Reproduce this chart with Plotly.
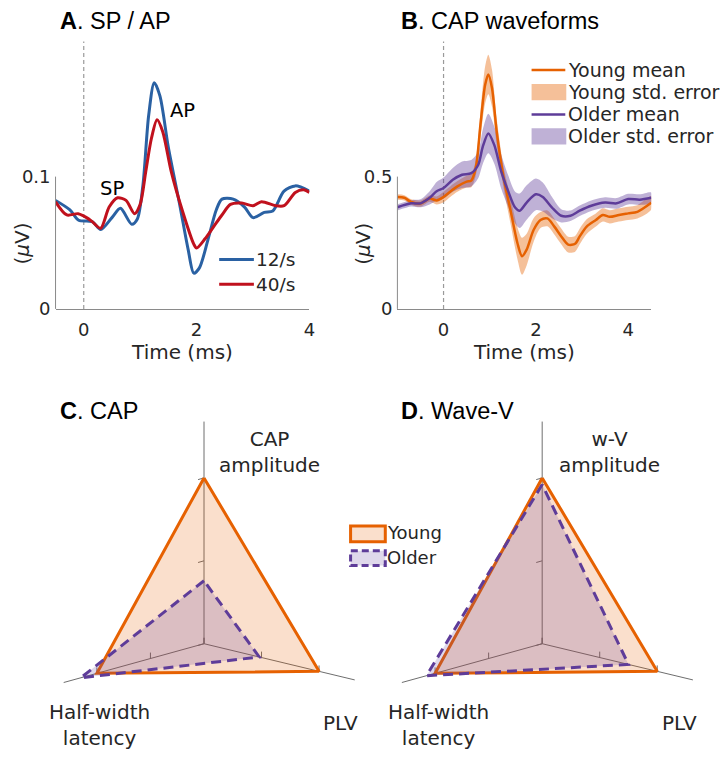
import numpy as np
import plotly.graph_objects as go

# ---------------- Panel A: SP / AP at two stimulation rates ----------------
t_rate12 = [-0.5, -0.25, -0.09, 0.15, 0.3, 0.5, 0.65, 0.85, 0.95, 1.05, 1.15, 1.25, 1.35,
            1.5, 1.7, 1.85, 1.95, 2.05, 2.2, 2.35, 2.45, 2.65, 2.85, 3.0, 3.2, 3.35,
            3.55, 3.75, 4.0]
v_rate12 = [0.082, 0.075, 0.067, 0.066, 0.060, 0.069, 0.076, 0.064, 0.068, 0.094, 0.146,
            0.171, 0.161, 0.122, 0.079, 0.045, 0.027, 0.031, 0.052, 0.075, 0.083, 0.083,
            0.077, 0.069, 0.073, 0.074, 0.089, 0.093, 0.089]

t_rate40 = [-0.5, -0.3, -0.1, 0.05, 0.15, 0.3, 0.45, 0.6, 0.75, 0.9, 1.0, 1.1, 1.2, 1.3,
            1.4, 1.55, 1.75, 1.95, 2.0, 2.15, 2.3, 2.45, 2.6, 2.8, 3.0, 3.15, 3.4, 3.55,
            3.75, 3.9, 4.0]
v_rate40 = [0.081, 0.071, 0.072, 0.069, 0.066, 0.061, 0.077, 0.084, 0.082, 0.072, 0.079,
            0.104, 0.129, 0.143, 0.134, 0.104, 0.074, 0.049, 0.046, 0.053, 0.062, 0.071,
            0.079, 0.080, 0.078, 0.081, 0.078, 0.078, 0.088, 0.090, 0.088]

rate_labels = ["12/s", "40/s"]

# ---------------- Panel B: CAP waveforms, young vs older ----------------
t_young = [-1.0, -0.85, -0.7, -0.5, -0.3, -0.15, 0.0, 0.15, 0.3, 0.5, 0.6, 0.7, 0.8, 0.9,
           0.97, 1.05, 1.15, 1.3, 1.45, 1.6, 1.7, 1.8, 1.95, 2.1, 2.25, 2.4, 2.55, 2.7,
           2.85, 2.95, 3.1, 3.3, 3.45, 3.6, 3.8, 4.0, 4.2, 4.5]
young_mean = [0.423, 0.420, 0.404, 0.398, 0.417, 0.410, 0.423, 0.444, 0.463, 0.481, 0.485,
              0.535, 0.697, 0.846, 0.886, 0.834, 0.672, 0.497, 0.373, 0.249, 0.199, 0.224,
              0.298, 0.336, 0.342, 0.311, 0.274, 0.243, 0.246, 0.274, 0.311, 0.336, 0.355,
              0.348, 0.355, 0.361, 0.367, 0.401]
young_se = [0.010, 0.010, 0.010, 0.012, 0.012, 0.015, 0.020, 0.020, 0.020, 0.022, 0.025,
            0.030, 0.050, 0.070, 0.075, 0.070, 0.050, 0.040, 0.050, 0.060, 0.070, 0.060,
            0.045, 0.030, 0.030, 0.030, 0.030, 0.030, 0.030, 0.030, 0.028, 0.025, 0.025,
            0.025, 0.025, 0.025, 0.025, 0.025]

t_older = [-1.0, -0.7, -0.5, -0.3, -0.15, 0.0, 0.2, 0.4, 0.6, 0.75, 0.85, 0.97, 1.1, 1.25,
           1.4, 1.55, 1.65, 1.8, 2.0, 2.15, 2.35, 2.55, 2.75, 2.95, 3.2, 3.5, 3.75, 4.0,
           4.25, 4.5]
older_mean = [0.384, 0.399, 0.399, 0.420, 0.445, 0.457, 0.488, 0.507, 0.513, 0.544, 0.613,
              0.663, 0.619, 0.519, 0.445, 0.383, 0.371, 0.402, 0.433, 0.423, 0.383, 0.352,
              0.352, 0.371, 0.390, 0.402, 0.399, 0.415, 0.413, 0.420]
older_se = [0.012, 0.012, 0.015, 0.025, 0.035, 0.040, 0.045, 0.050, 0.050, 0.050, 0.065,
            0.075, 0.070, 0.065, 0.060, 0.060, 0.065, 0.065, 0.060, 0.055, 0.040, 0.025,
            0.020, 0.020, 0.020, 0.020, 0.020, 0.020, 0.020, 0.020]

# ---------------- Panels C, D: normalised radar measures ----------------
radar_labels_cap = ["CAP<br>amplitude", "Half-width<br>latency", "PLV"]
radar_labels_wv = ["w-V<br>amplitude", "Half-width<br>latency", "PLV"]
cap_young = [1.0, 1.0, 1.0]
cap_older = [0.38, 1.15, 0.48]
wv_young = [1.0, 1.0, 1.0]
wv_older = [0.96, 1.08, 0.75]
radar_ticks = [0.5, 1.0]
group_labels = ["Young", "Older"]

# ---------------- style ----------------
W, H = 727, 760
FONT = "DejaVu Sans"
TITLE_FONT = "Liberation Sans, Arial"
TXT = "#262626"
AXC = "#8a8a8a"
BLUE = "#2a61a3"
RED = "#c0111d"
ORANGE = "#e66101"
PURPLE = "#5e3c99"


def px(x):
    return x / W


def py(y):
    return 1 - y / H


def rgba(hex_color, a):
    h = hex_color.lstrip("#")
    r, g, b = int(h[0:2], 16), int(h[2:4], 16), int(h[4:6], 16)
    return f"rgba({r},{g},{b},{a})"


fig = go.Figure()

# ---- A ----
fig.add_trace(go.Scatter(x=t_rate12, y=v_rate12, mode="lines", line=dict(color=BLUE, width=3, shape="spline", smoothing=0.8),
                         xaxis="x", yaxis="y", showlegend=False))
fig.add_trace(go.Scatter(x=t_rate40, y=v_rate40, mode="lines", line=dict(color=RED, width=3, shape="spline", smoothing=0.8),
                         xaxis="x", yaxis="y", showlegend=False))


# ---- B ----
def band(t, m, se):
    t = np.asarray(t)
    m = np.asarray(m)
    se = np.asarray(se)
    xs = np.concatenate([t, t[::-1]])
    ys = np.concatenate([m + se, (m - se)[::-1]])
    return xs, ys


bx, by = band(t_young, young_mean, young_se)
fig.add_trace(go.Scatter(x=bx, y=by, fill="toself", fillcolor=rgba(ORANGE, 0.4), mode="lines",
                         line=dict(width=0, shape="spline", smoothing=0.8), xaxis="x2", yaxis="y2", showlegend=False))
bx, by = band(t_older, older_mean, older_se)
fig.add_trace(go.Scatter(x=bx, y=by, fill="toself", fillcolor=rgba(PURPLE, 0.4), mode="lines",
                         line=dict(width=0, shape="spline", smoothing=0.8), xaxis="x2", yaxis="y2", showlegend=False))
fig.add_trace(go.Scatter(x=t_young, y=young_mean, mode="lines", line=dict(color=ORANGE, width=2.5, shape="spline", smoothing=0.8),
                         xaxis="x2", yaxis="y2", showlegend=False))
fig.add_trace(go.Scatter(x=t_older, y=older_mean, mode="lines", line=dict(color=PURPLE, width=2.5, shape="spline", smoothing=0.8),
                         xaxis="x2", yaxis="y2", showlegend=False))

# ---- C, D radar (projected 3-axis view, axes in pixel-sized units) ----
UNIT = {0: np.array([0.0, 168.0]), 1: np.array([-108.0, -30.0]), 2: np.array([116.0, -28.0])}
EXTENT = [1.34, 1.31, 1.31]
TICK_DIR = {0: np.array([-6.0, -1.7]), 1: np.array([0.0, 6.0]), 2: np.array([0.0, 6.0])}
radar_panels = [
    dict(xa="x3", ya="y3", center=np.array([205.7, 107.7]), young=cap_young, older=cap_older, labels=radar_labels_cap,
         label_pos=[(271.7, 302.0), (100.0, 25.0), (343.0, 27.0)]),
    dict(xa="x4", ya="y4", center=np.array([546.7, 107.7]), young=wv_young, older=wv_older, labels=radar_labels_wv,
         label_pos=[(615.0, 302.0), (441.7, 25.0), (685.0, 27.0)]),
]

annotations = []
for p in radar_panels:
    c = p["center"]
    # axis spokes and tick marks
    ax_x, ax_y = [], []
    for k in range(3):
        end = c + EXTENT[k] * UNIT[k]
        ax_x += [c[0], end[0], None]
        ax_y += [c[1], end[1], None]
        for tv in [0.0] + radar_ticks:
            pt = c + tv * UNIT[k]
            ax_x += [pt[0], pt[0] + TICK_DIR[k][0], None]
            ax_y += [pt[1], pt[1] + TICK_DIR[k][1], None]
    fig.add_trace(go.Scatter(x=ax_x, y=ax_y, mode="lines", line=dict(color="#6e6e6e", width=1),
                             xaxis=p["xa"], yaxis=p["ya"], showlegend=False, hoverinfo="skip"))
    for vals, col, dash in [(p["young"], ORANGE, "solid"), (p["older"], PURPLE, "10px,6px")]:
        pts = [c + vals[k] * UNIT[k] for k in range(3)]
        pts.append(pts[0])
        fig.add_trace(go.Scatter(x=[q[0] for q in pts], y=[q[1] for q in pts], mode="lines", fill="toself",
                                 fillcolor=rgba(col, 0.2), line=dict(color=col, width=3, dash=dash),
                                 xaxis=p["xa"], yaxis=p["ya"], showlegend=False))
    for lab, (lx, ly) in zip(p["labels"], p["label_pos"]):
        annotations.append(dict(x=lx, y=ly, xref=p["xa"], yref=p["ya"], text=lab, showarrow=False,
                                font=dict(family=FONT, size=20, color=TXT), align="center",
                                xanchor="center", yanchor="middle"))

# ---- panel titles ----
for lx, ly, letter, name in [(58, 21, "A", "SP / AP"), (402, 21, "B", "CAP waveforms"),
                             (58, 416, "C", "CAP"), (402, 416, "D", "Wave-V")]:
    annotations.append(dict(x=px(lx), y=py(ly), xref="paper", yref="paper", showarrow=False,
                            text=f"<b>{letter}</b>. {name}", xanchor="left", yanchor="middle",
                            font=dict(family=TITLE_FONT, size=23.5, color="black")))

# ---- y-axis titles ----
for lx in [22, 366]:
    annotations.append(dict(x=px(lx), y=py(247), xref="paper", yref="paper", showarrow=False,
                            text="(<i>μ</i>V)", textangle=-90, xanchor="center", yanchor="middle",
                            font=dict(family=FONT, size=20, color=TXT)))

# ---- A annotations ----
annotations.append(dict(x=0.5, y=0.091, xref="x", yref="y", text="SP", showarrow=False,
                        font=dict(family=FONT, size=19.5, color="black")))
annotations.append(dict(x=1.75, y=0.150, xref="x", yref="y", text="AP", showarrow=False,
                        font=dict(family=FONT, size=19.5, color="black")))

shapes = []
# legend A
for yy, col, lab in [(263, BLUE, rate_labels[0]), (288, RED, rate_labels[1])]:
    shapes.append(dict(type="line", xref="paper", yref="paper", x0=px(221), x1=px(256), y0=py(yy), y1=py(yy),
                       line=dict(color=col, width=3)))
    annotations.append(dict(x=px(256), y=py(yy), xref="paper", yref="paper", text=lab, showarrow=False,
                            xanchor="left", yanchor="middle", font=dict(family=FONT, size=18.5, color=TXT)))

# legend B
legB = [("line", ORANGE, "Young mean", 71), ("patch", ORANGE, "Young std. error", 93),
        ("line", PURPLE, "Older mean", 116), ("patch", PURPLE, "Older std. error", 138)]
for kind, col, lab, yy in legB:
    if kind == "line":
        shapes.append(dict(type="line", xref="paper", yref="paper", x0=px(536), x1=px(570), y0=py(yy), y1=py(yy),
                           line=dict(color=col, width=2.5)))
    else:
        shapes.append(dict(type="rect", xref="paper", yref="paper", x0=px(536), x1=px(571), y0=py(yy - 8),
                           y1=py(yy + 8.5), fillcolor=rgba(col, 0.4), line=dict(width=0)))
    annotations.append(dict(x=px(571), y=py(yy), xref="paper", yref="paper", text=lab, showarrow=False,
                            xanchor="left", yanchor="middle", font=dict(family=FONT, size=19, color=TXT)))

# legend C/D
for (y0, y1, col, dash, lab) in [(533, 549, ORANGE, "solid", group_labels[0]),
                                 (558, 573, PURPLE, "7px,4px", group_labels[1])]:
    shapes.append(dict(type="rect", xref="paper", yref="paper", x0=px(353.5), x1=px(388.5), y0=py(y1), y1=py(y0),
                       fillcolor=rgba(col, 0.2), line=dict(color=col, width=3, dash=dash)))
    annotations.append(dict(x=px(388.5), y=py((y0 + y1) / 2 - 1), xref="paper", yref="paper", text=lab,
                            showarrow=False, xanchor="left", yanchor="middle",
                            font=dict(family=FONT, size=18, color=TXT)))

# axis-limited y lines and stimulus-onset markers
shapes.append(dict(type="line", xref="x domain", yref="y", x0=0, x1=0, y0=0, y1=0.1, line=dict(color=AXC, width=1)))
shapes.append(dict(type="line", xref="x2 domain", yref="y2", x0=0, x1=0, y0=0, y1=0.5, line=dict(color=AXC, width=1)))
shapes.append(dict(type="line", xref="x", yref="y domain", x0=0, x1=0, y0=0, y1=1,
                   line=dict(color="#9a9a9a", width=1.2, dash="4px,3px"), layer="below"))
shapes.append(dict(type="line", xref="x2", yref="y2 domain", x0=0, x1=0, y0=0, y1=1,
                   line=dict(color="#9a9a9a", width=1.2, dash="4px,3px"), layer="below"))

tickfont = dict(family=FONT, size=18, color=TXT)
xcommon = dict(showline=True, linecolor=AXC, linewidth=1, ticks="", showgrid=False, zeroline=False,
               tickfont=tickfont, tickvals=[0, 2, 4], fixedrange=True, ticklabelstandoff=5,
               title=dict(text="Time (ms)", font=dict(family=FONT, size=20, color=TXT), standoff=4))
ycommon = dict(showline=False, ticks="", showgrid=False, zeroline=False, tickfont=tickfont, fixedrange=True,
               ticklabelstandoff=4)

fig.update_layout(
    width=W, height=H, margin=dict(l=0, r=0, t=0, b=0),
    paper_bgcolor="white", plot_bgcolor="rgba(0,0,0,0)", showlegend=False,
    xaxis=dict(domain=[px(56), px(312)], range=[-0.5, 4.0], anchor="y", **xcommon),
    yaxis=dict(domain=[py(313), py(42)], range=[0, 0.2022], anchor="x", tickvals=[0, 0.1],
               ticktext=["0", "0.1"], **ycommon),
    xaxis2=dict(domain=[px(400.7), px(656.7)], range=[-1.0, 4.5], anchor="y2", **xcommon),
    yaxis2=dict(domain=[py(313), py(42)], range=[0, 1.011], anchor="x2", tickvals=[0, 0.5],
                ticktext=["0", "0.5"], **ycommon),
    xaxis3=dict(domain=[0, px(363)], range=[0, 363], visible=False, fixedrange=True, anchor="y3"),
    yaxis3=dict(domain=[0, py(420)], range=[0, 340], visible=False, fixedrange=True, anchor="x3"),
    xaxis4=dict(domain=[px(363), 1], range=[363, 727], visible=False, fixedrange=True, anchor="y4"),
    yaxis4=dict(domain=[0, py(420)], range=[0, 340], visible=False, fixedrange=True, anchor="x4"),
    annotations=annotations, shapes=shapes,
)

fig.write_html("out.html")
